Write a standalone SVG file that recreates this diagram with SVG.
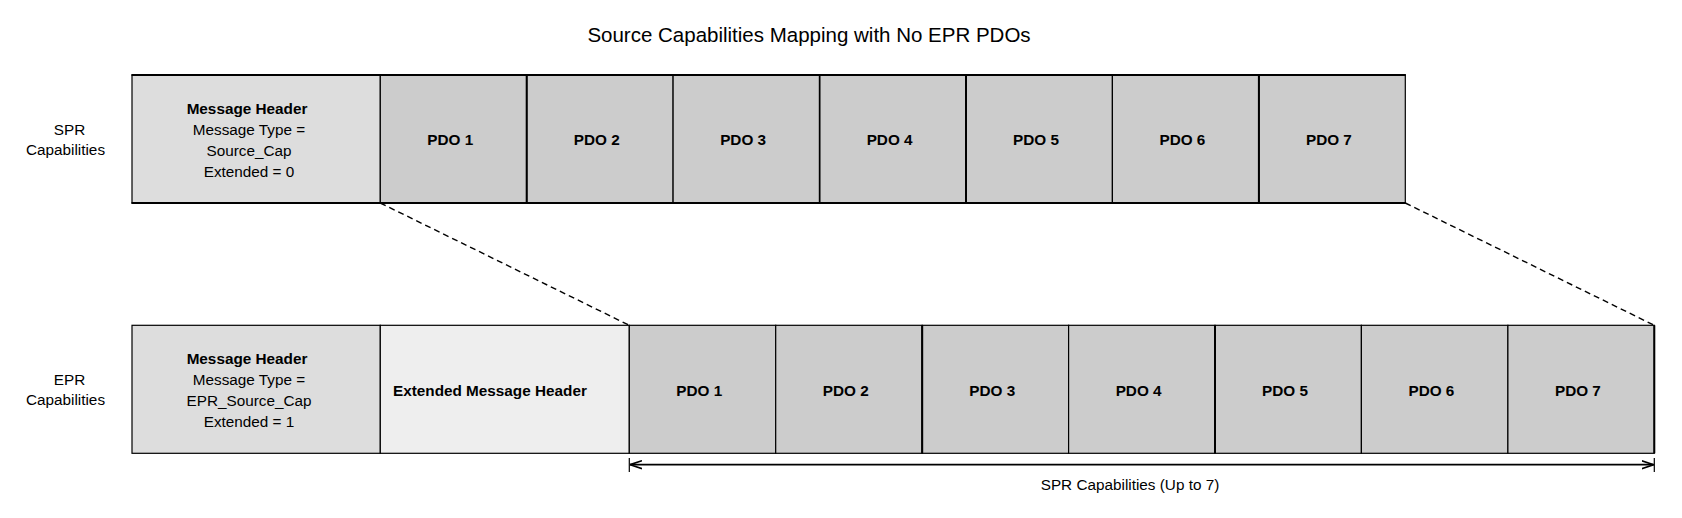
<svg xmlns="http://www.w3.org/2000/svg" width="1682" height="518" viewBox="0 0 1682 518">
<style>
text{font-family:"Liberation Sans",Arial,sans-serif;fill:#000}
.t{font-size:20.5px}
.n{font-size:15.3px}
.b{font-size:15.3px;font-weight:bold}
.hdr{fill:#dddddd;stroke:#000;stroke-width:1.2}
.ext{fill:#eeeeee;stroke:#000;stroke-width:1.2}
.pdo{fill:#cccccc;stroke:#000;stroke-width:1.2}
.dash{fill:none;stroke:#000;stroke-width:1.4;stroke-dasharray:6 4}
.dim{fill:none;stroke:#000;stroke-width:1.8}
.tick{fill:none;stroke:#000;stroke-width:1.2}
</style>
<defs>
<marker id="ah" viewBox="0 0 12 10" refX="12" refY="5" markerWidth="12" markerHeight="10" markerUnits="userSpaceOnUse" orient="auto-start-reverse">
<path d="M0,1 L12,5 L0,9" fill="none" stroke="#000" stroke-width="1.6"/>
</marker>
</defs>
<text class="t" x="809" y="42" text-anchor="middle">Source Capabilities Mapping with No EPR PDOs</text>

<g id="label-spr">
<text class="n" x="69.5" y="134.5" text-anchor="middle">SPR</text>
<text class="n" x="65.5" y="155" text-anchor="middle">Capabilities</text>
</g>
<g id="label-epr">
<text class="n" x="69.5" y="384.5" text-anchor="middle">EPR</text>
<text class="n" x="65.5" y="405" text-anchor="middle">Capabilities</text>
</g>

<g id="spr-header">
<rect class="hdr" x="132" y="75" width="248.3" height="128"/>
<text class="b" x="247" y="113.5" text-anchor="middle">Message Header</text>
<text class="n" x="249" y="134.5" text-anchor="middle">Message Type =</text>
<text class="n" x="249" y="155.5" text-anchor="middle">Source_Cap</text>
<text class="n" x="249" y="176.5" text-anchor="middle">Extended = 0</text>
</g>
<g id="spr-pdo1"><rect class="pdo" x="380.3" y="75" width="146.4" height="128"/><text class="b" x="450.3" y="145" text-anchor="middle">PDO 1</text></g>
<g id="spr-pdo2"><rect class="pdo" x="526.7" y="75" width="146.4" height="128"/><text class="b" x="596.7" y="145" text-anchor="middle">PDO 2</text></g>
<g id="spr-pdo3"><rect class="pdo" x="673.1" y="75" width="146.5" height="128"/><text class="b" x="743.1" y="145" text-anchor="middle">PDO 3</text></g>
<g id="spr-pdo4"><rect class="pdo" x="819.6" y="75" width="146.4" height="128"/><text class="b" x="889.6" y="145" text-anchor="middle">PDO 4</text></g>
<g id="spr-pdo5"><rect class="pdo" x="966" y="75" width="146.4" height="128"/><text class="b" x="1036" y="145" text-anchor="middle">PDO 5</text></g>
<g id="spr-pdo6"><rect class="pdo" x="1112.4" y="75" width="146.5" height="128"/><text class="b" x="1182.4" y="145" text-anchor="middle">PDO 6</text></g>
<g id="spr-pdo7"><rect class="pdo" x="1258.9" y="75" width="146.4" height="128"/><text class="b" x="1328.9" y="145" text-anchor="middle">PDO 7</text></g>
<g id="spr-borders">
<line x1="131.5" y1="75" x2="1405.8" y2="75" stroke="#000" stroke-width="2"/>
<line x1="131.5" y1="203" x2="1405.8" y2="203" stroke="#000" stroke-width="2"/>
<line x1="526.7" y1="75" x2="526.7" y2="203" stroke="#000" stroke-width="2"/>
<line x1="819.6" y1="75" x2="819.6" y2="203" stroke="#000" stroke-width="1.6"/>
<line x1="966" y1="75" x2="966" y2="203" stroke="#000" stroke-width="2"/>
<line x1="1258.9" y1="75" x2="1258.9" y2="203" stroke="#000" stroke-width="2"/>
</g>

<g id="epr-header">
<rect class="hdr" x="132" y="325.3" width="248.3" height="128"/>
<text class="b" x="247" y="364" text-anchor="middle">Message Header</text>
<text class="n" x="249" y="385" text-anchor="middle">Message Type =</text>
<text class="n" x="249" y="406" text-anchor="middle">EPR_Source_Cap</text>
<text class="n" x="249" y="427" text-anchor="middle">Extended = 1</text>
</g>
<g id="epr-ext-header">
<rect class="ext" x="380.3" y="325.3" width="249" height="128"/>
<text class="b" x="393" y="395.5">Extended Message Header</text>
</g>
<g id="epr-pdo1"><rect class="pdo" x="629.3" y="325.3" width="146.4" height="128"/><text class="b" x="699.3" y="395.5" text-anchor="middle">PDO 1</text></g>
<g id="epr-pdo2"><rect class="pdo" x="775.7" y="325.3" width="146.5" height="128"/><text class="b" x="845.7" y="395.5" text-anchor="middle">PDO 2</text></g>
<g id="epr-pdo3"><rect class="pdo" x="922.2" y="325.3" width="146.4" height="128"/><text class="b" x="992.2" y="395.5" text-anchor="middle">PDO 3</text></g>
<g id="epr-pdo4"><rect class="pdo" x="1068.6" y="325.3" width="146.4" height="128"/><text class="b" x="1138.6" y="395.5" text-anchor="middle">PDO 4</text></g>
<g id="epr-pdo5"><rect class="pdo" x="1215" y="325.3" width="146.4" height="128"/><text class="b" x="1285" y="395.5" text-anchor="middle">PDO 5</text></g>
<g id="epr-pdo6"><rect class="pdo" x="1361.4" y="325.3" width="146.5" height="128"/><text class="b" x="1431.4" y="395.5" text-anchor="middle">PDO 6</text></g>
<g id="epr-pdo7"><rect class="pdo" x="1507.9" y="325.3" width="146.4" height="128"/><text class="b" x="1577.9" y="395.5" text-anchor="middle">PDO 7</text></g>
<g id="epr-borders">
<line x1="922.2" y1="325.3" x2="922.2" y2="453.3" stroke="#000" stroke-width="2"/>
<line x1="1215" y1="325.3" x2="1215" y2="453.3" stroke="#000" stroke-width="2"/>
<line x1="1654.3" y1="325.3" x2="1654.3" y2="453.3" stroke="#000" stroke-width="2"/>
</g>

<g id="connectors">
<line class="dash" x1="380.3" y1="203" x2="629.3" y2="325.3"/>
<line class="dash" x1="1405.3" y1="203" x2="1654.3" y2="325.3"/>
<line class="tick" x1="629.3" y1="458" x2="629.3" y2="472"/>
<line class="tick" x1="1654.3" y1="458" x2="1654.3" y2="472"/>
<line class="dim" x1="630" y1="464.7" x2="1653.6" y2="464.7" marker-start="url(#ah)" marker-end="url(#ah)"/>
</g>
<text class="n" x="1130" y="490" text-anchor="middle">SPR Capabilities (Up to 7)</text>
</svg>
